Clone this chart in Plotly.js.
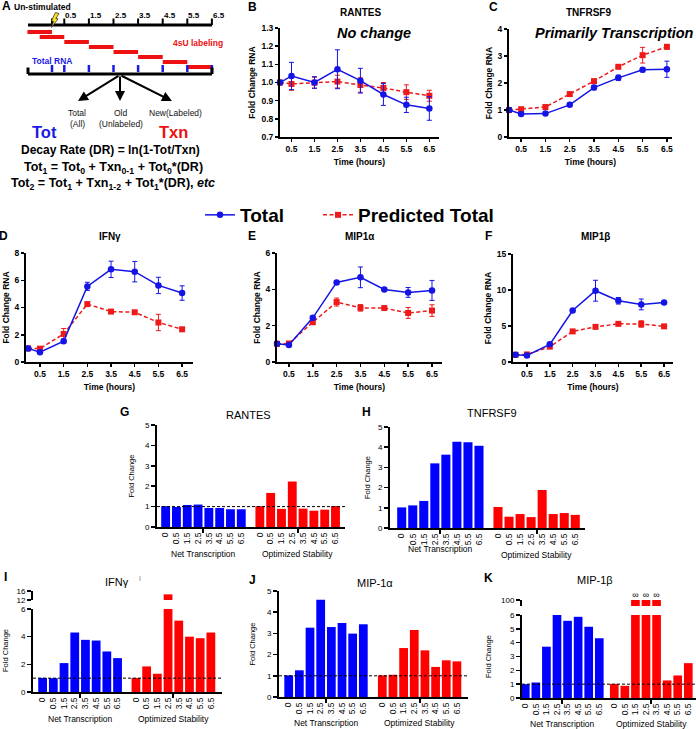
<!DOCTYPE html>
<html><head><meta charset="utf-8">
<script src="https://cdn.plot.ly/plotly-3.0.1.min.js"></script>
<style>html,body{margin:0;padding:0;background:#fff;}#chart{width:696px;height:729px;}</style>
</head><body><div id="chart"></div>
<script>
// ---------------- DATA ----------------
const timePoints = [0, 0.5, 1.5, 2.5, 3.5, 4.5, 5.5, 6.5];
const timeTickLabels = ["0.5", "1.5", "2.5", "3.5", "4.5", "5.5", "6.5"];
const barTickLabels = ["0", "0.5", "1.5", "2.5", "3.5", "4.5", "5.5", "6.5"];
const groupLabels = ["Net Transcription", "Optimized Stability"];
const seriesNames = ["Total", "Predicted Total"];

// B RANTES
const rantesTotal    = [1.00, 1.036, 1.00, 1.073, 1.01, 0.934, 0.877, 0.857];
const rantesTotalErr = [0, 0.075, 0.032, 0.107, 0.068, 0.06, 0.042, 0.065];
const rantesPred     = [1.00, 0.992, 0.999, 1.005, 0.986, 0.97, 0.947, 0.927];
const rantesPredErr  = [0, 0.035, 0.03, 0.035, 0.04, 0.03, 0.04, 0.03];
// C TNFRSF9
const tnfTotal    = [1.00, 0.855, 0.867, 1.19, 1.83, 2.19, 2.49, 2.51];
const tnfTotalErr = [0, 0.03, 0.03, 0.05, 0.08, 0.1, 0.08, 0.3];
const tnfPred     = [1.00, 1.03, 1.11, 1.59, 2.07, 2.6, 3.03, 3.34];
const tnfPredErr  = [0, 0.03, 0.03, 0.04, 0.05, 0.05, 0.29, 0.08];
// D IFNg
const ifngTotal    = [1.0, 0.72, 1.53, 5.55, 6.8, 6.63, 5.62, 5.06];
const ifngTotalErr = [0, 0.1, 0.15, 0.3, 0.6, 0.75, 0.6, 0.53];
const ifngPred     = [1.0, 0.98, 2.06, 4.25, 3.7, 3.65, 2.9, 2.4];
const ifngPredErr  = [0, 0.05, 0.4, 0.05, 0.08, 0.06, 0.6, 0.06];
// E MIP1a
const mip1aTotal    = [1.0, 0.94, 2.43, 4.38, 4.66, 3.99, 3.83, 3.94];
const mip1aTotalErr = [0, 0.05, 0.06, 0.1, 0.57, 0.05, 0.27, 0.55];
const mip1aPred     = [1.0, 1.02, 2.19, 3.3, 2.98, 2.97, 2.7, 2.83];
const mip1aPredErr  = [0, 0.05, 0.08, 0.22, 0.18, 0.06, 0.3, 0.32];
// F MIP1b
const mip1bTotal    = [1.0, 0.9, 2.45, 7.15, 9.9, 8.5, 8.0, 8.25];
const mip1bTotalErr = [0, 0.1, 0.15, 0.2, 1.45, 0.45, 0.75, 0.15];
const mip1bPred     = [1.0, 1.05, 2.13, 4.25, 4.88, 5.3, 5.28, 4.95];
const mip1bPredErr  = [0, 0.1, 0.15, 0.15, 0.15, 0.2, 0.45, 0.15];

// G-K bar panels
const rantesNetTxn  = [1.02, 0.98, 1.08, 1.10, 0.93, 0.93, 0.87, 0.87];
const rantesOptStab = [1.02, 1.67, 0.89, 2.23, 0.90, 0.80, 0.85, 1.03];
const tnfNetTxn     = [1.02, 1.12, 1.34, 3.2, 3.63, 4.27, 4.25, 4.07];
const tnfOptStab    = [1.04, 0.56, 0.69, 0.54, 1.88, 0.69, 0.74, 0.65];
const ifngNetTxn    = [1.02, 1.0, 2.09, 4.3, 3.77, 3.72, 2.93, 2.45];
const ifngOptStab   = [1.02, 1.85, 1.32, 14.5, 5.16, 4.0, 3.89, 4.3];
const mip1aNetTxn   = [1.02, 1.26, 3.27, 4.59, 3.3, 3.49, 2.99, 3.43];
const mip1aOptStab  = [1.02, 1.05, 2.31, 3.16, 2.2, 1.42, 1.73, 1.68];
const mip1bNetTxn   = [1.0, 1.12, 3.71, 6.0, 5.58, 5.87, 5.15, 4.32];
const mip1bOptStab  = [1.02, 0.88, Infinity, Infinity, Infinity, 1.27, 1.63, 2.52];

// ---------------- HELPERS ----------------
const W = 696, H = 729;
const X = px => px / W;
const Y = py => 1 - py / H;
const FONT = "Arial, 'Liberation Sans', Helvetica, sans-serif";
const BLUE_L = '#1414E6', RED_L = '#EE1A1A';
const BLUE_B = '#0000FF', RED_B = '#FF0000';
const ax = n => n === 1 ? 'x' : 'x' + n;
const ay = n => n === 1 ? 'y' : 'y' + n;
const axKey = n => n === 1 ? 'xaxis' : 'xaxis' + n;
const ayKey = n => n === 1 ? 'yaxis' : 'yaxis' + n;

const traces = [];
const annotations = [];
const shapes = [];
const legendBase = {orientation: 'h', xanchor: 'left', yanchor: 'top',
  font: {size: 19, weight: 700, family: FONT}, bgcolor: 'rgba(0,0,0,0)', borderwidth: 0};
const layout = {
  width: W, height: H, margin: {l: 0, r: 0, t: 0, b: 0},
  paper_bgcolor: '#fff', plot_bgcolor: 'rgba(0,0,0,0)',
  font: {family: FONT, color: '#000'},
  barmode: 'overlay',
  showlegend: true,
  legend: Object.assign({}, legendBase, {x: X(200), y: Y(196)}),
  legend2: Object.assign({}, legendBase, {x: X(318), y: Y(196)}),
  annotations, shapes
};

function ann(text, x, y, o = {}) {
  annotations.push(Object.assign({text, x: X(x), y: Y(y), xref: 'paper', yref: 'paper',
    showarrow: false, xanchor: 'center', yanchor: 'middle',
    font: {size: o.size || 10, weight: o.weight || 400, color: o.color || '#000', family: FONT, style: o.style || 'normal'}},
    o.extra || {}));
}
function line(x0, y0, x1, y1, color, width) {
  shapes.push({type: 'line', xref: 'paper', yref: 'paper', x0: X(x0), y0: Y(y0), x1: X(x1), y1: Y(y1),
    line: {color, width}});
}

const axisBase = {showgrid: false, zeroline: false, showline: true, linecolor: '#000', linewidth: 2,
  ticks: 'outside', tickcolor: '#000'};

// ---------------- PANEL A (schematic) ----------------
ann('A', 6, 6, {size: 12, weight: 700});
ann('Un-stimulated', 42, 7, {size: 8.5, weight: 700});
const tX = t => 52 + t * 24.6;
line(28, 25, 212, 25, '#000', 3);
timePoints.forEach(t => line(tX(t), 18.5, tX(t), 25, '#000', 2));
timePoints.slice(1).forEach((t, i) => ann(timeTickLabels[i], tX(t) + 7, 15, {size: 8, weight: 700}));
timePoints.forEach((t, i) => line(tX(t - 1), 32 + 5 * i, tX(t), 32 + 5 * i, '#EE1111', 4));
ann('4sU labeling', 198, 43, {size: 8.5, weight: 700, color: '#EE1111'});
ann('Total RNA', 52, 61, {size: 8.5, weight: 700, color: '#1A1AE6'});
timePoints.forEach(t => line(tX(t), 65, tX(t), 72, '#1A1AE6', 2.5));
line(28, 74, 212, 74, '#000', 3);
line(28, 67.5, 28, 74, '#000', 3);
line(212, 67.5, 212, 74, '#000', 3);
// lightning bolt
const bolt = [[55.5,12.5],[59,13.5],[55.8,18.5],[58,18.8],[51.5,27.5],[53.6,21.2],[51.3,21]];
shapes.push({type: 'path', xref: 'paper', yref: 'paper',
  path: 'M' + bolt.map(p => X(p[0]) + ',' + Y(p[1])).join(' L') + ' Z',
  fillcolor: '#FFE419', line: {color: '#333', width: 0.8}});
// arrows
[[78, 101], [120, 101], [172, 101]].forEach(p => {
  annotations.push({x: X(p[0]), y: Y(p[1]), xref: 'paper', yref: 'paper', text: '',
    showarrow: true, ax: 120 - p[0], ay: 75 - p[1], axref: 'pixel', ayref: 'pixel',
    arrowhead: 2, arrowsize: 1, arrowwidth: 2, arrowcolor: '#000'});
});
ann('Total', 77, 113.5, {size: 8.5, color: '#111'});
ann('(All)', 77, 124.5, {size: 8.5, color: '#111'});
ann('Old', 121, 113.5, {size: 8.5, color: '#111'});
ann('(Unlabeled)', 121, 124.5, {size: 8.5, color: '#111'});
ann('New(Labeled)', 175, 113.5, {size: 8.5, color: '#111'});
ann('Tot', 44, 132, {size: 16.5, weight: 700, color: '#1A1AE6'});
ann('Txn', 173, 132, {size: 16.5, weight: 700, color: '#EE1111'});
ann('Decay Rate (DR) = ln(1-Tot/Txn)', 110, 150, {size: 12, weight: 700});
ann('Tot<sub>1</sub> = Tot<sub>0</sub> + Txn<sub>0-1</sub> + Tot<sub>0</sub>*(DR)', 113, 168, {size: 12.5, weight: 700});
ann('Tot<sub>2</sub> = Tot<sub>1</sub> + Txn<sub>1-2</sub> + Tot<sub>1</sub>*(DR), <i>etc</i>', 113, 184, {size: 12.5, weight: 700});

// ---------------- LINE PANELS B-F ----------------
const linePanels = [
  {letter: 'B', lx: 252, ly: 7, title: 'RANTES', tx: 360, ty: 13, total: rantesTotal, totalErr: rantesTotalErr,
   pred: rantesPred, predErr: rantesPredErr, xd: [280, 439], xr: [0, 6.92], yd: [137, 28], yr: [0.7, 1.3],
   ytv: [0.7, 0.8, 0.9, 1.0, 1.1, 1.2, 1.3], yfmt: '.1f', note: 'No change', nx: 374, ny: 33},
  {letter: 'C', lx: 493, ly: 7, title: 'TNFRSF9', tx: 588, ty: 13, total: tnfTotal, totalErr: tnfTotalErr,
   pred: tnfPred, predErr: tnfPredErr, xd: [509, 672], xr: [0, 6.71], yd: [137, 29], yr: [0, 4],
   ytv: [0, 1, 2, 3, 4], yfmt: 'd', note: 'Primarily Transcription', nx: 614, ny: 33},
  {letter: 'D', lx: 3, ly: 236, title: 'IFNγ', tx: 110, ty: 237, total: ifngTotal, totalErr: ifngTotalErr,
   pred: ifngPred, predErr: ifngPredErr, xd: [26, 193], xr: [-0.09, 6.96], yd: [362, 253], yr: [0, 8],
   ytv: [0, 2, 4, 6, 8], yfmt: 'd'},
  {letter: 'E', lx: 252, ly: 236, title: 'MIP1α', tx: 360, ty: 237, total: mip1aTotal, totalErr: mip1aTotalErr,
   pred: mip1aPred, predErr: mip1aPredErr, xd: [277, 442], xr: [0, 6.92], yd: [362, 253], yr: [0, 6],
   ytv: [0, 2, 4, 6], yfmt: 'd'},
  {letter: 'F', lx: 488, ly: 236, title: 'MIP1β', tx: 595, ty: 237, total: mip1bTotal, totalErr: mip1bTotalErr,
   pred: mip1bPred, predErr: mip1bPredErr, xd: [513, 673], xr: [-0.11, 6.89], yd: [362, 254], yr: [0, 15],
   ytv: [0, 5, 10, 15], yfmt: 'd'}
];

linePanels.forEach((p, k) => {
  const n = k + 1;
  traces.push({type: 'scatter', mode: 'lines+markers', name: seriesNames[1], x: timePoints, y: p.pred,
    xaxis: ax(n), yaxis: ay(n), cliponaxis: false, showlegend: k === 0, legend: 'legend2',
    line: {color: RED_L, width: 1.5, dash: '4px,2.5px'},
    marker: {symbol: 'square', size: 6, color: RED_L},
    error_y: {type: 'data', array: p.predErr, visible: true, color: RED_L, thickness: 1, width: 2.5}});
  traces.push({type: 'scatter', mode: 'lines+markers', name: seriesNames[0], x: timePoints, y: p.total,
    xaxis: ax(n), yaxis: ay(n), cliponaxis: false, showlegend: k === 0, legend: 'legend',
    line: {color: BLUE_L, width: 1.5},
    marker: {symbol: 'circle', size: 6.5, color: BLUE_L},
    error_y: {type: 'data', array: p.totalErr, visible: true, color: BLUE_L, thickness: 1, width: 2.5}});
  layout[axKey(n)] = Object.assign({}, axisBase, {domain: [X(p.xd[0]), X(p.xd[1])], range: p.xr, anchor: ay(n),
    tickmode: 'array', tickvals: timePoints.slice(1), ticktext: timeTickLabels, ticklen: 3, tickwidth: 1.5,
    tickfont: {size: 8.5, weight: 700},
    title: {text: 'Time (hours)', font: {size: 8.5, weight: 700}, standoff: 6}});
  layout[ayKey(n)] = Object.assign({}, axisBase, {domain: [Y(p.yd[0]), Y(p.yd[1])], range: p.yr, anchor: ax(n),
    tickmode: 'array', tickvals: p.ytv, tickformat: p.yfmt, ticklen: 3, tickwidth: 1.5,
    tickfont: {size: 8.5, weight: 700},
    title: {text: 'Fold Change RNA', font: {size: 8.5, weight: 700}, standoff: 4}});
  ann(p.letter, p.lx, p.ly, {size: 12, weight: 700});
  ann(p.title, p.tx, p.ty, {size: 10, weight: 700});
  if (p.note) ann(p.note, p.nx, p.ny, {size: 14.5, weight: 700, style: 'italic'});
});

// ---------------- BAR PANELS G-K ----------------
const barPanels = [
  {letter: 'G', lx: 124, ly: 412, title: 'RANTES', tx: 248, ty: 415, net: rantesNetTxn, opt: rantesOptStab,
   xn: 6, yn: 6, xd: [157, 345], xr: [-0.8, 16.6], yd: [527, 425], yr: [0, 5], ytv: [0, 1, 2, 3, 4, 5],
   redStart: 8.72, dashed: true, gy: [554, 554], ystand: 9},
  {letter: 'H', lx: 367, ly: 412, title: 'TNFRSF9', tx: 492, ty: 413, net: tnfNetTxn, opt: tnfOptStab,
   xn: 7, yn: 7, xd: [390, 585], xr: [-1.06, 16.6], yd: [528, 427], yr: [0, 5], ytv: [0, 1, 2, 3, 4, 5],
   redStart: 8.72, dashed: false, gy: [549, 555], ystand: 6},
  {letter: 'I', lx: 5, ly: 577, title: 'IFNγ', tx: 117, ty: 582, net: ifngNetTxn, opt: ifngOptStab,
   xn: 8, yn: 8, xd: [33, 222], xr: [-0.9, 16.76], yd: [692, 609], yr: [0, 6], ytv: [0, 2, 4, 6],
   redStart: 8.72, dashed: true, gy: [719, 719], ystand: 11,
   upper: {yn: 9, yd: [600, 591], yr: [12, 16], ytv: [12, 16]}},
  {letter: 'J', lx: 252, ly: 580, title: 'MIP-1α', tx: 375, ty: 583, net: mip1aNetTxn, opt: mip1aOptStab,
   xn: 9, yn: 10, xd: [279, 468], xr: [-0.91, 16.82], yd: [697, 591], yr: [0, 5], ytv: [0, 1, 2, 3, 4, 5],
   redStart: 8.78, dashed: true, gy: [723, 723], ystand: 10},
  {letter: 'K', lx: 488, ly: 578, title: 'MIP-1β', tx: 595, ty: 580, net: mip1bNetTxn, opt: mip1bOptStab,
   xn: 10, yn: 11, xd: [522, 696], xr: [-0.31, 16.15], yd: [698, 615], yr: [0, 6], ytv: [0, 1, 2, 3, 4, 5, 6],
   redStart: 8.42, dashed: true, gy: [724, 724], ystand: 17,
   upper: {yn: 12, yd: [606, 599.5], yr: [95, 100.5], ytv: [100], cap: 100}}
];

barPanels.forEach(p => {
  const blueX = barTickLabels.map((_, i) => i);
  const redX = barTickLabels.map((_, i) => p.redStart + i);
  const cap = p.upper && p.upper.cap ? p.upper.cap : null;
  const optDraw = p.opt.map(v => isFinite(v) ? v : cap);
  const yAxes = [p.yn].concat(p.upper ? [p.upper.yn] : []);
  yAxes.forEach(yn => {
    traces.push({type: 'bar', x: blueX, y: p.net, width: 0.82, xaxis: ax(p.xn), yaxis: ay(yn),
      marker: {color: BLUE_B, line: {width: 0}}, showlegend: false, name: groupLabels[0]});
    traces.push({type: 'bar', x: redX, y: optDraw, width: 0.82, xaxis: ax(p.xn), yaxis: ay(yn),
      marker: {color: RED_B, line: {width: 0}}, showlegend: false, name: groupLabels[1]});
  });
  if (cap !== null) {
    const infX = redX.filter((_, i) => !isFinite(p.opt[i]));
    traces.push({type: 'scatter', mode: 'text', x: infX, y: infX.map(() => cap), text: infX.map(() => '∞'),
      textposition: 'top center', textfont: {size: 9, color: '#000'}, cliponaxis: false,
      xaxis: ax(p.xn), yaxis: ay(p.upper.yn), showlegend: false, hoverinfo: 'skip'});
  }
  layout[axKey(p.xn)] = Object.assign({}, axisBase, {domain: [X(p.xd[0]), X(p.xd[1])], range: p.xr,
    anchor: ay(p.yn), tickmode: 'array', tickvals: blueX.concat(redX), ticktext: barTickLabels.concat(barTickLabels),
    tickangle: -90, ticks: '', tickfont: {size: 8.5},
    minor: {tickmode: 'array', tickvals: [3.5, p.redStart + 3.5], ticks: 'outside', ticklen: 4, tickwidth: 2,
            tickcolor: '#000', showgrid: false}});
  layout[ayKey(p.yn)] = Object.assign({}, axisBase, {domain: [Y(p.yd[0]), Y(p.yd[1])], range: p.yr,
    anchor: ax(p.xn), tickmode: 'array', tickvals: p.ytv, ticklen: 4, tickwidth: 1.5, tickfont: {size: 8},
    title: {text: 'Fold Change', font: {size: 7.5}, standoff: p.ystand}});
  if (p.upper) {
    layout[ayKey(p.upper.yn)] = Object.assign({}, axisBase, {domain: [Y(p.upper.yd[0]), Y(p.upper.yd[1])],
      range: p.upper.yr, anchor: ax(p.xn), tickmode: 'array', tickvals: p.upper.ytv, ticklen: 4, tickwidth: 1.5,
      tickfont: {size: 8}});
  }
  if (p.dashed) {
    shapes.push({type: 'line', xref: ax(p.xn) + ' domain', yref: ay(p.yn), x0: 0, x1: 1, y0: 1, y1: 1,
      line: {color: '#000', width: 1, dash: '3px,2px'}});
  }
  annotations.push({text: groupLabels[0], x: 3.5, xref: ax(p.xn), y: Y(p.gy[0]), yref: 'paper',
    showarrow: false, font: {size: 8.5}, xanchor: 'center', yanchor: 'middle'});
  annotations.push({text: groupLabels[1], x: p.redStart + 3.5, xref: ax(p.xn), y: Y(p.gy[1]), yref: 'paper',
    showarrow: false, font: {size: 8.5}, xanchor: 'center', yanchor: 'middle'});
  ann(p.letter, p.lx, p.ly, {size: 12, weight: 700});
  ann(p.title, p.tx, p.ty, {size: 11});
});
ann('I', 140, 578, {size: 7, color: '#777'});

Plotly.newPlot('chart', traces, layout, {displayModeBar: false, staticPlot: true});
</script>
</body></html>
